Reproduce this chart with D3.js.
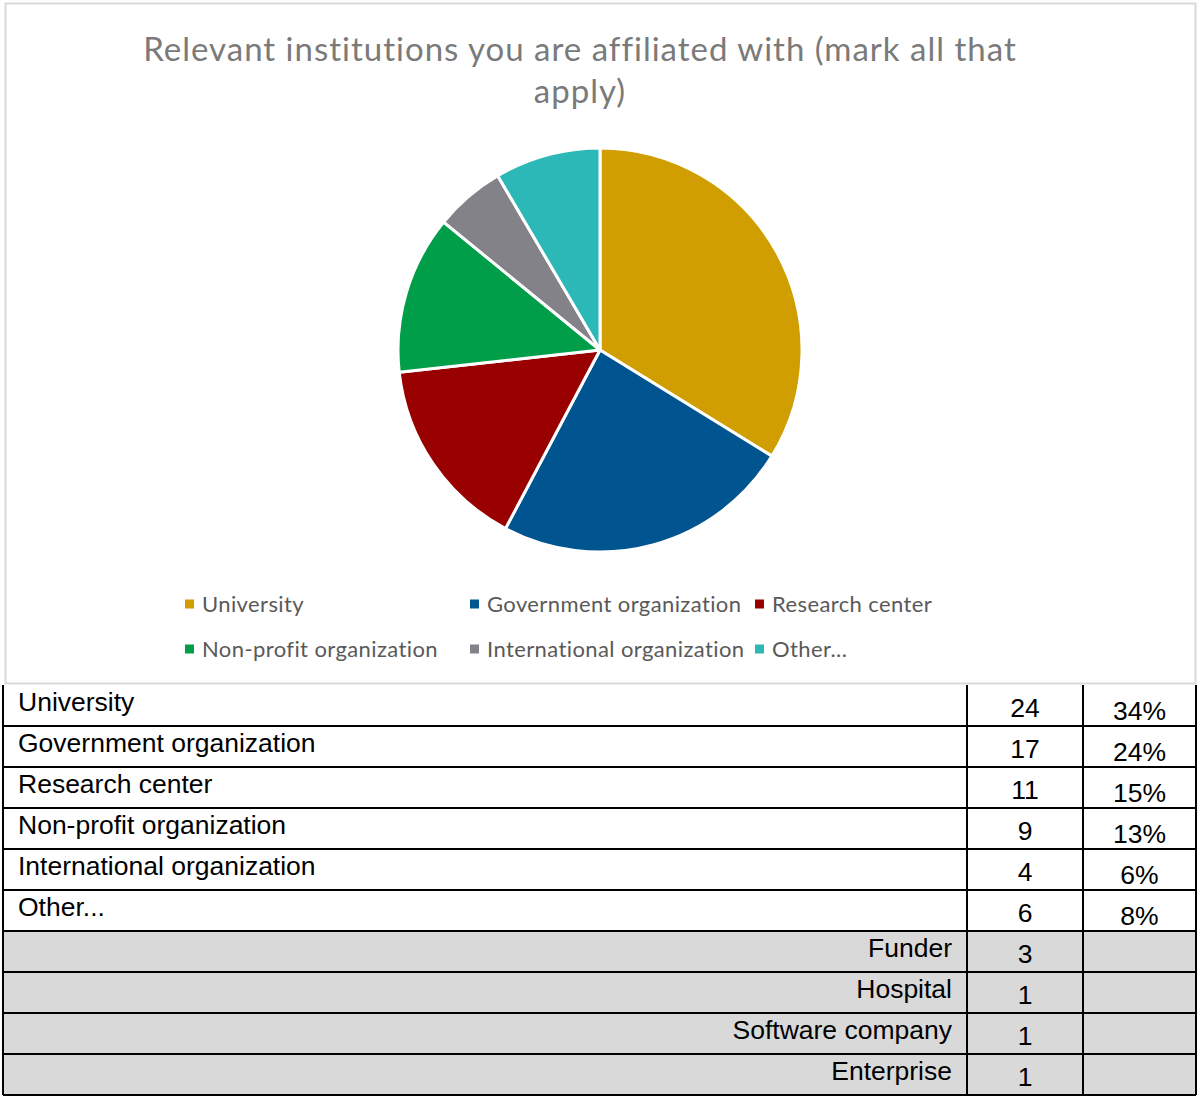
<!doctype html>
<html lang="en">
<head>
<meta charset="UTF-8">
<script src="https://cdn.jsdelivr.net/npm/d3@7"></script>
<title>Relevant institutions</title>
<style>
  body { margin: 0; background: #fff; }
</style>
</head>
<body>
<div id="chart"></div>
<script>
// data
var categories = ["University", "Government organization", "Research center",
    "Non-profit organization", "International organization", "Other..."];
var counts = [24, 17, 11, 9, 4, 6];
var percents = ["34%", "24%", "15%", "13%", "6%", "8%"];
var otherLabels = ["Funder", "Hospital", "Software company", "Enterprise"];
var otherCounts = [3, 1, 1, 1];
var colors = ["#d09e00", "#00548f", "#990000", "#009e49", "#838289", "#2db8b8"];

var W = 1198, H = 1096;
var svg = d3.select("#chart").append("svg")
    .attr("width", W).attr("height", H);

// chart frame
svg.append("rect")
    .attr("x", 5.5).attr("y", 3.5).attr("width", 1190).attr("height", 680)
    .attr("fill", "#fff").attr("stroke", "#d9d9d9").attr("stroke-width", 2);

// title
var title = svg.append("text")
    .attr("text-anchor", "middle")
    .attr("font-family", "Lato, sans-serif")
    .attr("font-size", 33)
    .attr("letter-spacing", 1)
    .attr("fill", "#7a7a7a");
title.append("tspan").attr("x", 580).attr("y", 61)
    .text("Relevant institutions you are affiliated with (mark all that");
title.append("tspan").attr("x", 580).attr("y", 103).text("apply)");

// pie
var color = d3.scaleOrdinal().domain(categories).range(colors);
var pie = d3.pie().sort(null).value(function (d, i) { return counts[i]; });
var arc = d3.arc().innerRadius(0).outerRadius(202);

svg.append("g")
    .attr("transform", "translate(600,350)")
    .selectAll("path")
    .data(pie(categories))
    .enter().append("path")
    .attr("d", arc)
    .attr("fill", function (d) { return color(d.data); })
    .attr("stroke", "#fff")
    .attr("stroke-width", 3)
    .attr("stroke-linejoin", "round");

// legend
var legX = [185, 470, 755], legY = [604, 649];
var leg = svg.append("g").selectAll("g")
    .data(categories)
    .enter().append("g")
    .attr("transform", function (d, i) {
        return "translate(" + legX[i % 3] + "," + legY[Math.floor(i / 3)] + ")";
    });
leg.append("rect")
    .attr("x", 0).attr("y", -4.5).attr("width", 9).attr("height", 9)
    .attr("fill", function (d) { return color(d); });
leg.append("text")
    .attr("x", 17).attr("y", 7.5)
    .attr("font-family", "Lato, sans-serif")
    .attr("font-size", 22)
    .attr("letter-spacing", 0.4)
    .attr("fill", "#595959")
    .text(function (d) { return d; });

// table
var cols = [3, 967, 1083, 1196];
var rowH = 41, top0 = 685;
var rows = categories.map(function (c, i) {
    return {label: c, count: counts[i], pct: percents[i], sub: false};
}).concat(otherLabels.map(function (c, i) {
    return {label: c, count: otherCounts[i], pct: "", sub: true};
}));
var y = d3.scaleLinear().domain([0, rows.length]).range([top0, top0 + rowH * rows.length]);

var tbl = svg.append("g").attr("font-family", "'Liberation Sans', Arial, sans-serif")
    .attr("font-size", 26.5).attr("fill", "#000");

var rg = tbl.selectAll("g.row").data(rows).enter().append("g").attr("class", "row");
rg.append("rect")
    .attr("x", cols[0]).attr("width", cols[3] - cols[0])
    .attr("y", function (d, i) { return y(i); }).attr("height", rowH)
    .attr("fill", function (d) { return d.sub ? "#d9d9d9" : "#fff"; });
rg.append("text")
    .attr("x", function (d) { return d.sub ? 952 : 18; })
    .attr("y", function (d, i) { return y(i) + 26; })
    .attr("text-anchor", function (d) { return d.sub ? "end" : "start"; })
    .text(function (d) { return d.label; });
rg.append("text")
    .attr("x", (cols[1] + cols[2]) / 2)
    .attr("y", function (d, i) { return y(i) + 32; })
    .attr("text-anchor", "middle")
    .text(function (d) { return d.count; });
rg.append("text")
    .attr("x", (cols[2] + cols[3]) / 2)
    .attr("y", function (d, i) { return y(i) + 35; })
    .attr("text-anchor", "middle")
    .text(function (d) { return d.pct; });

// grid lines
var grid = svg.append("g").attr("stroke", "#000").attr("stroke-width", 2);
d3.range(1, rows.length + 1).forEach(function (i) {
    grid.append("line").attr("x1", cols[0]).attr("x2", cols[3])
        .attr("y1", y(i)).attr("y2", y(i));
});
cols.forEach(function (cx) {
    grid.append("line").attr("x1", cx).attr("x2", cx)
        .attr("y1", top0).attr("y2", y(rows.length));
});
</script>
</body>
</html>
